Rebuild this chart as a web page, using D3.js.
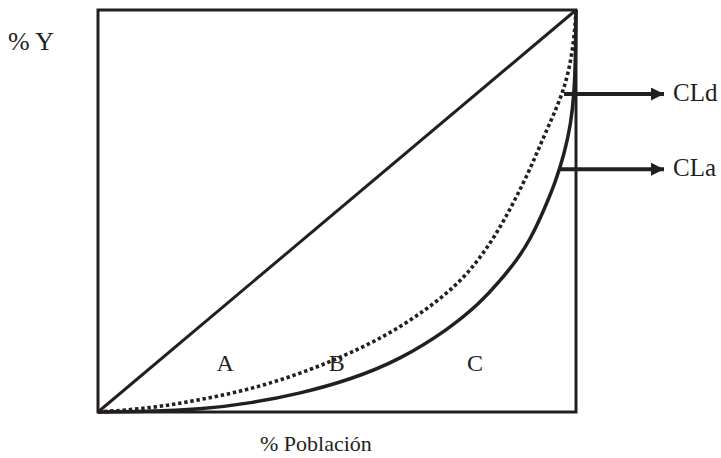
<!DOCTYPE html>
<html>
<head>
<meta charset="utf-8">
<script src="https://cdn.jsdelivr.net/npm/d3@7"></script>
<style>
  body { margin: 0; background: #fff; }
</style>
</head>
<body>
<svg id="chart" width="721" height="458"></svg>
<script>
// % poblacion (x) y % renta (y) de cada curva de Lorenz
const poblacionA = [0, 10, 21.3, 32, 42.3, 52.7, 63.2, 73.6, 80, 84.1, 87.5, 90.4, 93.4, 95.8, 97.6, 98.9, 99.6, 99.9, 100];
const cla = [0, 0.1, 0.6, 2.2, 4.6, 8, 13, 20.8, 27.2, 32.6, 37.6, 42.8, 50.5, 57.5, 64.5, 71.5, 79, 88, 100];

const poblacionD = [0, 10.9, 21.3, 31.8, 42.3, 52.7, 63.2, 73.6, 78.9, 83.1, 86.8, 90.4, 93.4, 96.1, 97.9, 99, 99.7, 100];
const cld = [0, 0.9, 3, 5.6, 9.5, 14.5, 20.8, 29.8, 36.6, 43.8, 51.7, 60.4, 68.9, 76, 82, 88, 94, 100];

const igualdad = [[0, 0], [100, 100]];

// etiquetas
const zonas = ["A", "B", "C"];
const zonasX = [24.8, 48.3, 77.2];
const flechas = ["CLd", "CLa"];
const flechasY = [79.1, 60.4];
const flechasX = [97.5, 96.4];

// buscar una fuente serif instalada
function pickFont(list) {
  const ctx = document.createElement("canvas").getContext("2d");
  ctx.font = "40px monospace";
  const base = ctx.measureText("% Población CLd ABC").width;
  for (const f of list) {
    ctx.font = `40px "${f}", monospace`;
    if (ctx.measureText("% Población CLd ABC").width !== base) return `"${f}", serif`;
  }
  return "serif";
}
const fuente = pickFont(["Liberation Serif", "Times New Roman", "Times", "Nimbus Roman", "FreeSerif", "Noto Serif", "DejaVu Serif"]);

const svg = d3.select("#chart");
const ink = "#231f20";

const x = d3.scaleLinear().domain([0, 100]).range([98, 576]);
const y = d3.scaleLinear().domain([0, 100]).range([412, 10]);

// el cuadro
svg.append("rect")
  .attr("x", x(0)).attr("y", y(100))
  .attr("width", x(100) - x(0)).attr("height", y(0) - y(100))
  .attr("fill", "none").attr("stroke", ink).attr("stroke-width", 3);

const line = d3.line().x(d => x(d[0])).y(d => y(d[1]));
const curva = d3.line().x(d => x(d[0])).y(d => y(d[1])).curve(d3.curveBasis);

// linea de igualdad
svg.append("path").attr("d", line(igualdad))
  .attr("fill", "none").attr("stroke", ink).attr("stroke-width", 3);

// CLd punteada
svg.append("path").attr("d", curva(d3.zip(poblacionD, cld)))
  .attr("fill", "none").attr("stroke", ink).attr("stroke-width", 3.6)
  .attr("stroke-dasharray", "3.4,2.8");

// CLa continua
svg.append("path").attr("d", curva(d3.zip(poblacionA, cla)))
  .attr("fill", "none").attr("stroke", ink).attr("stroke-width", 3.5);

// flechas
svg.append("defs").append("marker")
  .attr("id", "punta").attr("viewBox", "0 0 10 10")
  .attr("refX", 10).attr("refY", 5)
  .attr("markerWidth", 15).attr("markerHeight", 13)
  .attr("markerUnits", "userSpaceOnUse").attr("orient", "auto")
  .append("path").attr("d", "M0,0L10,5L0,10Z").attr("fill", ink);

svg.selectAll(".flecha")
  .data(flechas)
  .join("line")
  .attr("class", "flecha")
  .attr("x1", (d, i) => x(flechasX[i])).attr("x2", 664)
  .attr("y1", (d, i) => y(flechasY[i])).attr("y2", (d, i) => y(flechasY[i]))
  .attr("stroke", ink).attr("stroke-width", 4)
  .attr("marker-end", "url(#punta)");

svg.selectAll(".etq")
  .data(flechas)
  .join("text")
  .attr("class", "etq")
  .attr("x", 673).attr("y", (d, i) => y(flechasY[i]) + 7)
  .attr("font-size", 25)
  .text(d => d);

// A B C
svg.selectAll(".zona")
  .data(zonas)
  .join("text")
  .attr("class", "zona")
  .attr("x", (d, i) => x(zonasX[i])).attr("y", 371)
  .attr("font-size", 24)
  .text(d => d);

// titulos de ejes
svg.append("text").attr("x", 8).attr("y", 50).attr("font-size", 26).text("% Y");
svg.append("text").attr("x", 260).attr("y", 451).attr("font-size", 22).text("% Población");

svg.selectAll("text").style("font-family", fuente).attr("fill", ink);
</script>
</body>
</html>
